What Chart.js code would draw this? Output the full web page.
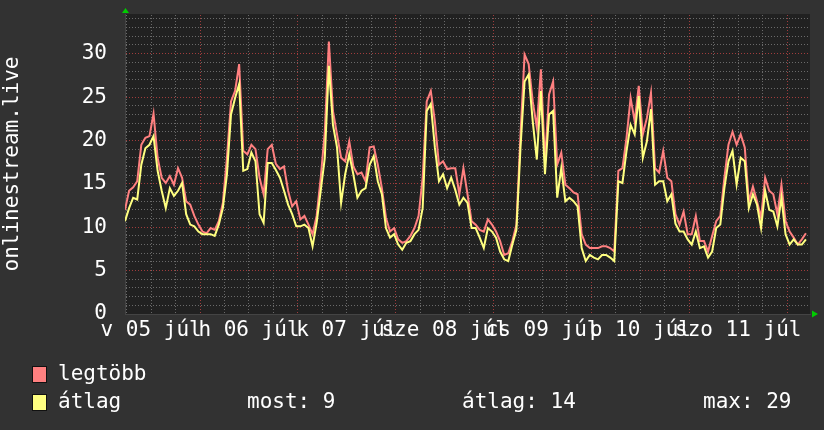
<!DOCTYPE html>
<html><head><meta charset="utf-8">
<script src="https://cdn.jsdelivr.net/npm/chart.js@4/dist/chart.umd.min.js"></script>
<style>
html,body{margin:0;padding:0;background:#323232;}
#wrap{position:relative;width:824px;height:430px;background:#323232;}
canvas{position:absolute;left:0;top:0;}
.lg{position:absolute;font-family:'DejaVu Sans Mono',monospace;font-size:21px;color:#fff;line-height:21px;white-space:pre;}
.sw{position:absolute;width:13px;height:15px;border:1px solid #111;}
</style></head><body>
<div id="wrap"><canvas id="c" width="824" height="430"></canvas>
<div class="sw" id="s0" style="left:32px;top:366px"></div>
<div class="lg" id="n0" style="left:58px;top:363px"></div>
<div class="sw" id="s1" style="left:32px;top:394px"></div>
<div class="lg" id="n1" style="left:58px;top:391px"></div>
<div class="lg" id="st0" style="left:247px;top:391px"></div>
<div class="lg" id="st1" style="left:462px;top:391px"></div>
<div class="lg" id="st2" style="left:703px;top:391px"></div>
</div>
<script>
// ---- data (hourly samples) ----
const seriesNames = ['legtöbb', 'átlag'];
const seriesColors = ['#ff8080', '#ffff80'];
const maxVals = [
12.0,14.2,14.6,15.3,19.5,20.3,20.5,23.1,18.0,15.7,15.1,15.9,14.9,16.8,15.7,13.0,12.6,11.3,10.3,9.5,
9.3,9.9,9.7,10.7,12.8,18.0,24.5,25.7,28.8,18.8,18.4,19.5,19.0,15.7,13.8,19.0,19.5,17.3,16.7,17.0,
14.2,12.4,13.0,10.9,11.3,10.3,9.2,11.3,15.7,21.0,31.4,23.4,20.7,18.0,17.6,19.9,17.0,16.1,16.3,15.3,
19.2,19.3,17.2,14.5,11.1,9.5,9.9,8.6,8.2,8.4,9.0,9.9,11.3,15.7,24.5,25.7,22.2,17.2,17.6,16.7,
16.8,16.8,13.8,16.8,13.8,10.7,10.3,9.7,9.5,10.9,10.3,9.5,8.4,6.8,7.0,8.4,10.3,20.7,29.9,28.8,
24.5,21.5,28.2,17.6,25.3,26.8,17.2,18.6,14.9,14.5,14.0,13.8,9.2,8.0,7.6,7.6,7.6,7.8,7.8,7.6,
7.2,16.5,16.8,20.3,24.9,22.2,26.3,20.7,22.6,25.5,16.8,16.3,18.8,15.7,15.3,11.5,10.3,11.8,9.2,9.2,
11.3,8.4,8.4,7.2,9.0,10.7,11.3,15.7,19.5,21.0,19.5,20.7,19.2,13.0,14.7,13.0,11.1,15.7,14.2,13.8,
11.5,14.9,10.7,9.5,8.8,8.0,8.6,9.3];
const avgVals = [
10.7,12.2,13.4,13.2,17.2,19.1,19.5,20.5,16.5,14.2,12.2,14.5,13.6,14.2,15.1,11.5,10.3,10.1,9.5,9.2,
9.2,9.2,9.0,10.3,12.2,16.1,23.0,24.9,26.5,16.5,16.7,18.6,17.6,11.5,10.5,17.4,17.4,16.6,15.7,14.2,
12.6,11.5,10.1,10.1,10.3,9.9,7.8,10.5,14.2,18.0,28.6,21.8,19.2,12.8,16.1,18.4,16.1,13.4,14.2,14.5,
17.2,18.2,15.3,13.8,9.9,8.8,9.2,8.0,7.4,8.2,8.4,9.2,9.7,12.2,23.4,24.2,19.2,15.3,16.1,14.5,
15.7,14.3,12.6,13.4,12.8,9.9,9.9,8.8,7.6,9.9,9.5,8.8,7.2,6.3,6.1,8.0,9.7,19.2,26.8,27.6,
22.2,17.8,25.7,16.1,23.0,23.4,13.4,16.8,13.0,13.4,13.0,12.4,7.6,6.1,6.8,6.5,6.3,6.8,6.8,6.5,
6.1,15.3,15.1,18.8,21.8,20.7,25.1,18.0,19.9,23.6,14.9,15.3,15.3,13.0,13.8,10.4,9.5,9.5,8.6,8.0,
9.5,7.6,7.8,6.5,7.2,9.9,10.3,14.5,17.6,18.8,14.9,18.0,17.6,12.2,13.8,12.6,9.9,14.2,12.0,11.8,
10.1,13.4,9.2,8.0,8.6,8.0,8.0,8.6];
const dayLabels = ['v 05 júl','h 06 júl','k 07 júl','sze 08 júl','cs 09 júl','p 10 júl','szo 11 júl'];
const statLabels = ['most', 'átlag', 'max'];
const statValues = [9, 14, 29];
const yAxisTitle = 'onlinestream.live';

// ---- axis config ----
const spanHours = 168;
const firstMidnight = 18.4;
const yMax = 34.57;
const FONT = {family: "'DejaVu Sans Mono', monospace", size: 21};

const canvas = document.getElementById('c');
const mainCtx = canvas.getContext('2d');
function dots(color, horiz) {
  const p = document.createElement('canvas');
  p.width = horiz ? 3 : 1; p.height = horiz ? 1 : 3;
  const g = p.getContext('2d');
  g.fillStyle = color; g.fillRect(0, 0, 1, 1);
  return mainCtx.createPattern(p, 'repeat');
}
const H_MAJOR = dots('#a03c3c', true), H_MINOR = dots('#6a6a6a', true);
const V_MAJOR = dots('#a03c3c', false), V_MINOR = dots('#6a6a6a', false);

// legend (HTML text)
seriesNames.forEach((n, i) => {
  document.getElementById('n' + i).textContent = n;
  document.getElementById('s' + i).style.background = seriesColors[i];
});
statLabels.forEach((l, i) => {
  document.getElementById('st' + i).textContent = l + ': ' + statValues[i];
});

const pts = arr => arr.map((v, i) => ({x: i, y: v}));
const isMidnight = v => { const r = (((v - firstMidnight) % 24) + 24) % 24; return r < 0.01 || r > 23.99; };

const decor = {
  id: 'decor',
  beforeDraw(ch) {
    const {ctx, chartArea: a} = ch;
    ctx.save();
    ctx.fillStyle = '#212121';
    ctx.fillRect(a.left, a.top, a.right - a.left, a.bottom - a.top);
    ctx.restore();
  },
  afterDraw(ch) {
    const {ctx, chartArea: a} = ch;
    ctx.save();
    ctx.fillStyle = '#00cc00';
    ctx.beginPath();
    ctx.moveTo(a.left - 3, a.top - 1); ctx.lineTo(a.left + 4, a.top - 1); ctx.lineTo(a.left + 0.5, a.top - 6);
    ctx.closePath(); ctx.fill();
    ctx.beginPath();
    ctx.moveTo(a.right + 2, a.bottom - 3.5); ctx.lineTo(a.right + 2, a.bottom + 3.5); ctx.lineTo(a.right + 8, a.bottom);
    ctx.closePath(); ctx.fill();
    ctx.restore();
  }
};

new Chart(canvas, {
  type: 'line',
  data: {
    datasets: [
      {label: seriesNames[1], data: pts(avgVals), borderColor: seriesColors[1], borderWidth: 2, pointRadius: 0, tension: 0, order: 0},
      {label: seriesNames[0], data: pts(maxVals), borderColor: seriesColors[0], borderWidth: 2, pointRadius: 0, tension: 0, order: 1}
    ]
  },
  options: {
    responsive: false, animation: false, devicePixelRatio: 1,
    layout: {padding: {left: 0, top: 14, right: 14, bottom: 76}},
    plugins: {legend: {display: false}, tooltip: {enabled: false}},
    scales: {
      x: {
        type: 'linear', min: 0, max: spanHours,
        afterBuildTicks(s) {
          const t = [];
          for (let v = firstMidnight - 18; v <= spanHours + 1e-6; v += 6) t.push({value: v});
          s.ticks = t;
        },
        afterFit(s) { s.height = 40; s.paddingLeft = 0; s.paddingRight = 0; },
        ticks: {
          autoSkip: false, maxRotation: 0, minRotation: 0, padding: 4, color: '#ffffff', font: FONT,
          callback(v) {
            const k = Math.round((v - firstMidnight + 12) / 24);
            return Math.abs(v - (firstMidnight - 12 + 24 * k)) < 0.01 && dayLabels[k] ? dayLabels[k] : '';
          }
        },
        grid: {
          drawTicks: false, lineWidth: 1,
          color: c => isMidnight(c.tick.value) ? V_MAJOR : V_MINOR
        },
        border: {display: true, color: '#444444'}
      },
      y: {
        min: 0, max: yMax,
        afterBuildTicks(s) {
          const t = [];
          for (let v = 0; v <= yMax; v += 1) t.push({value: v});
          s.ticks = t;
        },
        afterFit(s) { s.width = 125; s.paddingTop = 0; s.paddingBottom = 0; },
        ticks: {
          autoSkip: false, padding: 18, color: '#ffffff', font: FONT,
          callback: v => (v % 5 === 0 ? String(v) : '')
        },
        grid: {
          drawTicks: false, lineWidth: 1,
          color: c => (c.tick.value % 5 === 0 ? H_MAJOR : H_MINOR)
        },
        border: {display: true, color: '#444444'},
        title: {display: true, text: yAxisTitle, color: '#ffffff', font: FONT, padding: {top: 0, bottom: 0}}
      }
    }
  },
  plugins: [decor]
});
</script>
</body></html>
